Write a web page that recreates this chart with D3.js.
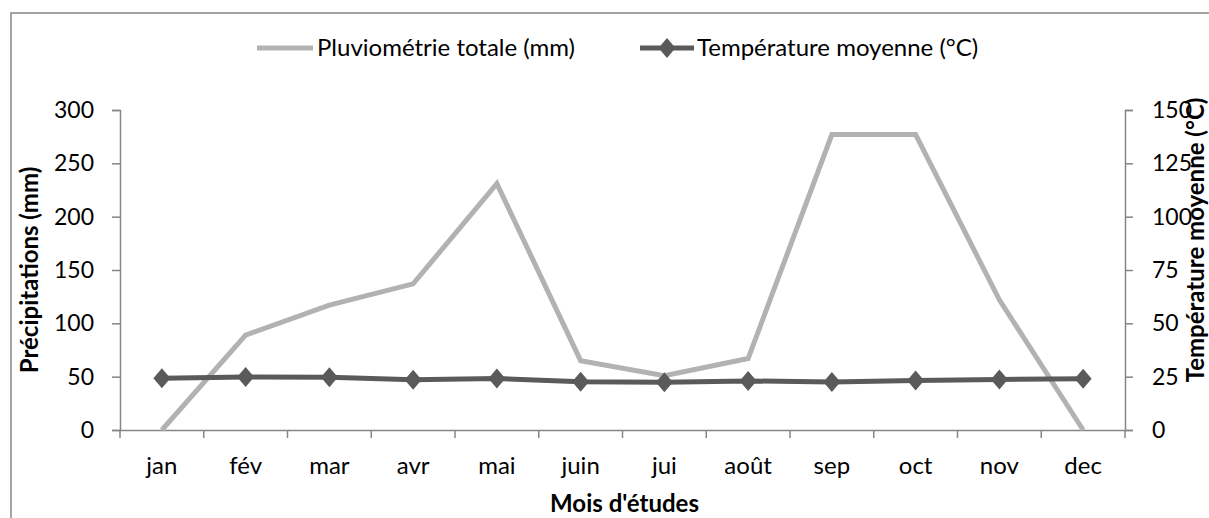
<!DOCTYPE html>
<html><head><meta charset="utf-8">
<script src="https://cdn.jsdelivr.net/npm/d3@7"></script>
<style>body{margin:0;background:#fff}svg{display:block}text{font-family:Lato,"Open Sans",sans-serif;fill:#000}</style>
</head><body>
<svg id="c" width="1209" height="518"></svg>
<script>
const months = ["jan","fév","mar","avr","mai","juin","jui","août","sep","oct","nov","dec"];
const rain = [0, 89, 117, 137, 231, 65, 51, 67, 277, 277, 122, 0];
const temp = [24.2, 24.9, 24.7, 23.6, 24.1, 22.6, 22.4, 23.0, 22.5, 23.2, 23.7, 24.0];
const leftTicks = [0, 50, 100, 150, 200, 250, 300];
const rightTicks = [0, 25, 50, 75, 100, 125, 150];

const svg = d3.select("#c");
const L = 120, R = 1125, T = 110, B = 430;
const axisCol = "#868686";
const FS = 24, FSN = 23;

svg.append("rect").attr("x",11).attr("y",13).attr("width",1300).attr("height",600)
  .attr("fill","none").attr("stroke",axisCol).attr("stroke-width",1.5);

const x = d3.scaleBand().domain(months).range([L,R]);
const yL = d3.scaleLinear().domain([0,300]).range([B,T]);
const yR = d3.scaleLinear().domain([0,150]).range([B,T]);

// x axis
const gx = svg.append("g").attr("transform",`translate(0,${B})`)
  .call(d3.axisBottom(x).tickSize(0).tickPadding(27));
gx.select(".domain").attr("stroke",axisCol).attr("stroke-width",1.5);
gx.selectAll("text").attr("font-size",FS).style("font-family","Lato");
const bounds = months.map(m=>x(m)).concat([R]);
svg.append("g").selectAll("line").data(bounds).join("line")
  .attr("x1",d=>d).attr("x2",d=>d).attr("y1",B).attr("y2",B+8)
  .attr("stroke",axisCol).attr("stroke-width",1.5);

// left axis
const gl = svg.append("g").attr("transform",`translate(${L},0)`)
  .call(d3.axisLeft(yL).tickValues(leftTicks).tickSize(8).tickPadding(18));
gl.selectAll("path,line").attr("stroke",axisCol).attr("stroke-width",1.5);
gl.selectAll("text").attr("font-size",FSN).style("font-family","Lato");

// right axis
const gr = svg.append("g").attr("transform",`translate(${R},0)`)
  .call(d3.axisRight(yR).tickValues(rightTicks).tickSize(8).tickPadding(19));
gr.selectAll("path,line").attr("stroke",axisCol).attr("stroke-width",1.5);
gr.selectAll("text").attr("font-size",FSN).style("font-family","Lato");

const cx = m => x(m) + x.bandwidth()/2;

// rain line
svg.append("path").datum(rain)
  .attr("d", d3.line().x((d,i)=>cx(months[i])).y(d=>yL(d)))
  .attr("fill","none").attr("stroke","#b2b2b2").attr("stroke-width",5).attr("stroke-linejoin","miter");

// temp line
svg.append("path").datum(temp)
  .attr("d", d3.line().x((d,i)=>cx(months[i])).y(d=>yR(d)))
  .attr("fill","none").attr("stroke","#5a5a5a").attr("stroke-width",5);
const diamond = "M0,-10L8.5,0L0,10L-8.5,0Z";
svg.append("g").selectAll("path").data(temp).join("path")
  .attr("d",diamond).attr("transform",(d,i)=>`translate(${cx(months[i])},${yR(d)})`)
  .attr("fill","#5a5a5a");

// titles
svg.append("text").attr("x",(L+R)/2+2).attr("y",512).attr("text-anchor","middle")
  .attr("font-size",FS).attr("font-weight","bold").text("Mois d'études");
svg.append("text").attr("transform",`translate(38,270) rotate(-90)`).attr("text-anchor","middle")
  .attr("font-size",FS).attr("font-weight","bold").text("Précipitations (mm)");
svg.append("text").attr("transform",`translate(1204,240) rotate(-90)`).attr("text-anchor","middle")
  .attr("font-size",FS).attr("font-weight","bold").text("Température moyenne (°C)");

// legend
const lg = svg.append("g");
lg.append("line").attr("x1",257).attr("x2",313).attr("y1",48).attr("y2",48)
  .attr("stroke","#b2b2b2").attr("stroke-width",5);
lg.append("text").attr("x",317).attr("y",56).attr("font-size",FS).text("Pluviométrie totale (mm)");
lg.append("line").attr("x1",640).attr("x2",694).attr("y1",48).attr("y2",48)
  .attr("stroke","#5a5a5a").attr("stroke-width",5);
lg.append("path").attr("d",diamond).attr("transform","translate(667,48)").attr("fill","#5a5a5a");
lg.append("text").attr("x",697).attr("y",56).attr("font-size",FS).text("Température moyenne (°C)");
</script>
</body></html>
